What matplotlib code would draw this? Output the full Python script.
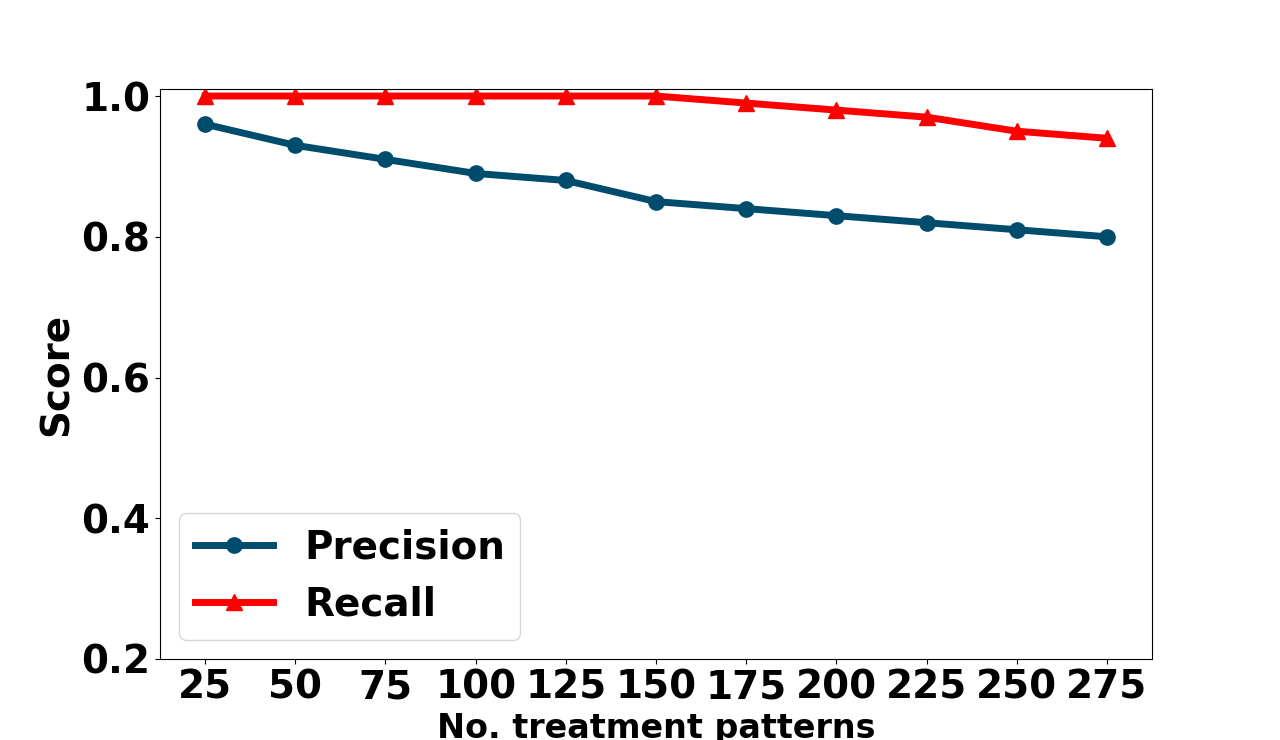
import matplotlib
matplotlib.use("Agg")
import matplotlib.pyplot as plt

patterns = [25, 50, 75, 100, 125, 150, 175, 200, 225, 250, 275]
precision = [0.96, 0.93, 0.91, 0.89, 0.88, 0.85, 0.84, 0.83, 0.82, 0.81, 0.80]
recall = [1.00, 1.00, 1.00, 1.00, 1.00, 1.00, 0.99, 0.98, 0.97, 0.95, 0.94]

plt.rcParams['font.family'] = ['DejaVu Sans']
plt.rcParams['font.weight'] = 'bold'

fig = plt.figure(figsize=(12.8, 7.4), dpi=100)
ax = fig.add_axes([160/1280, 1-659/740, (1152-160)/1280, (659-89)/740])

ax.plot(patterns, precision, color='#004c6d', linewidth=5, marker='o', markersize=11, label='Precision')
ax.plot(patterns, recall, color='#ff0000', linewidth=5, marker='^', markersize=11, label='Recall')

ax.set_ylim(0.2, 1.01)
ax.set_xticks(patterns)
ax.set_yticks([0.2, 0.4, 0.6, 0.8, 1.0])
ax.tick_params(labelsize=28)
for t in ax.get_xticklabels() + ax.get_yticklabels():
    t.set_fontweight('bold')
ax.set_xlabel('No. treatment patterns', fontsize=24, fontweight='bold', labelpad=4)
ax.set_ylabel('Score', fontsize=28, fontweight='bold')
ax.legend(loc='lower left', prop={'size': 28, 'weight': 'bold'})

fig.savefig('out.png', dpi=100)
